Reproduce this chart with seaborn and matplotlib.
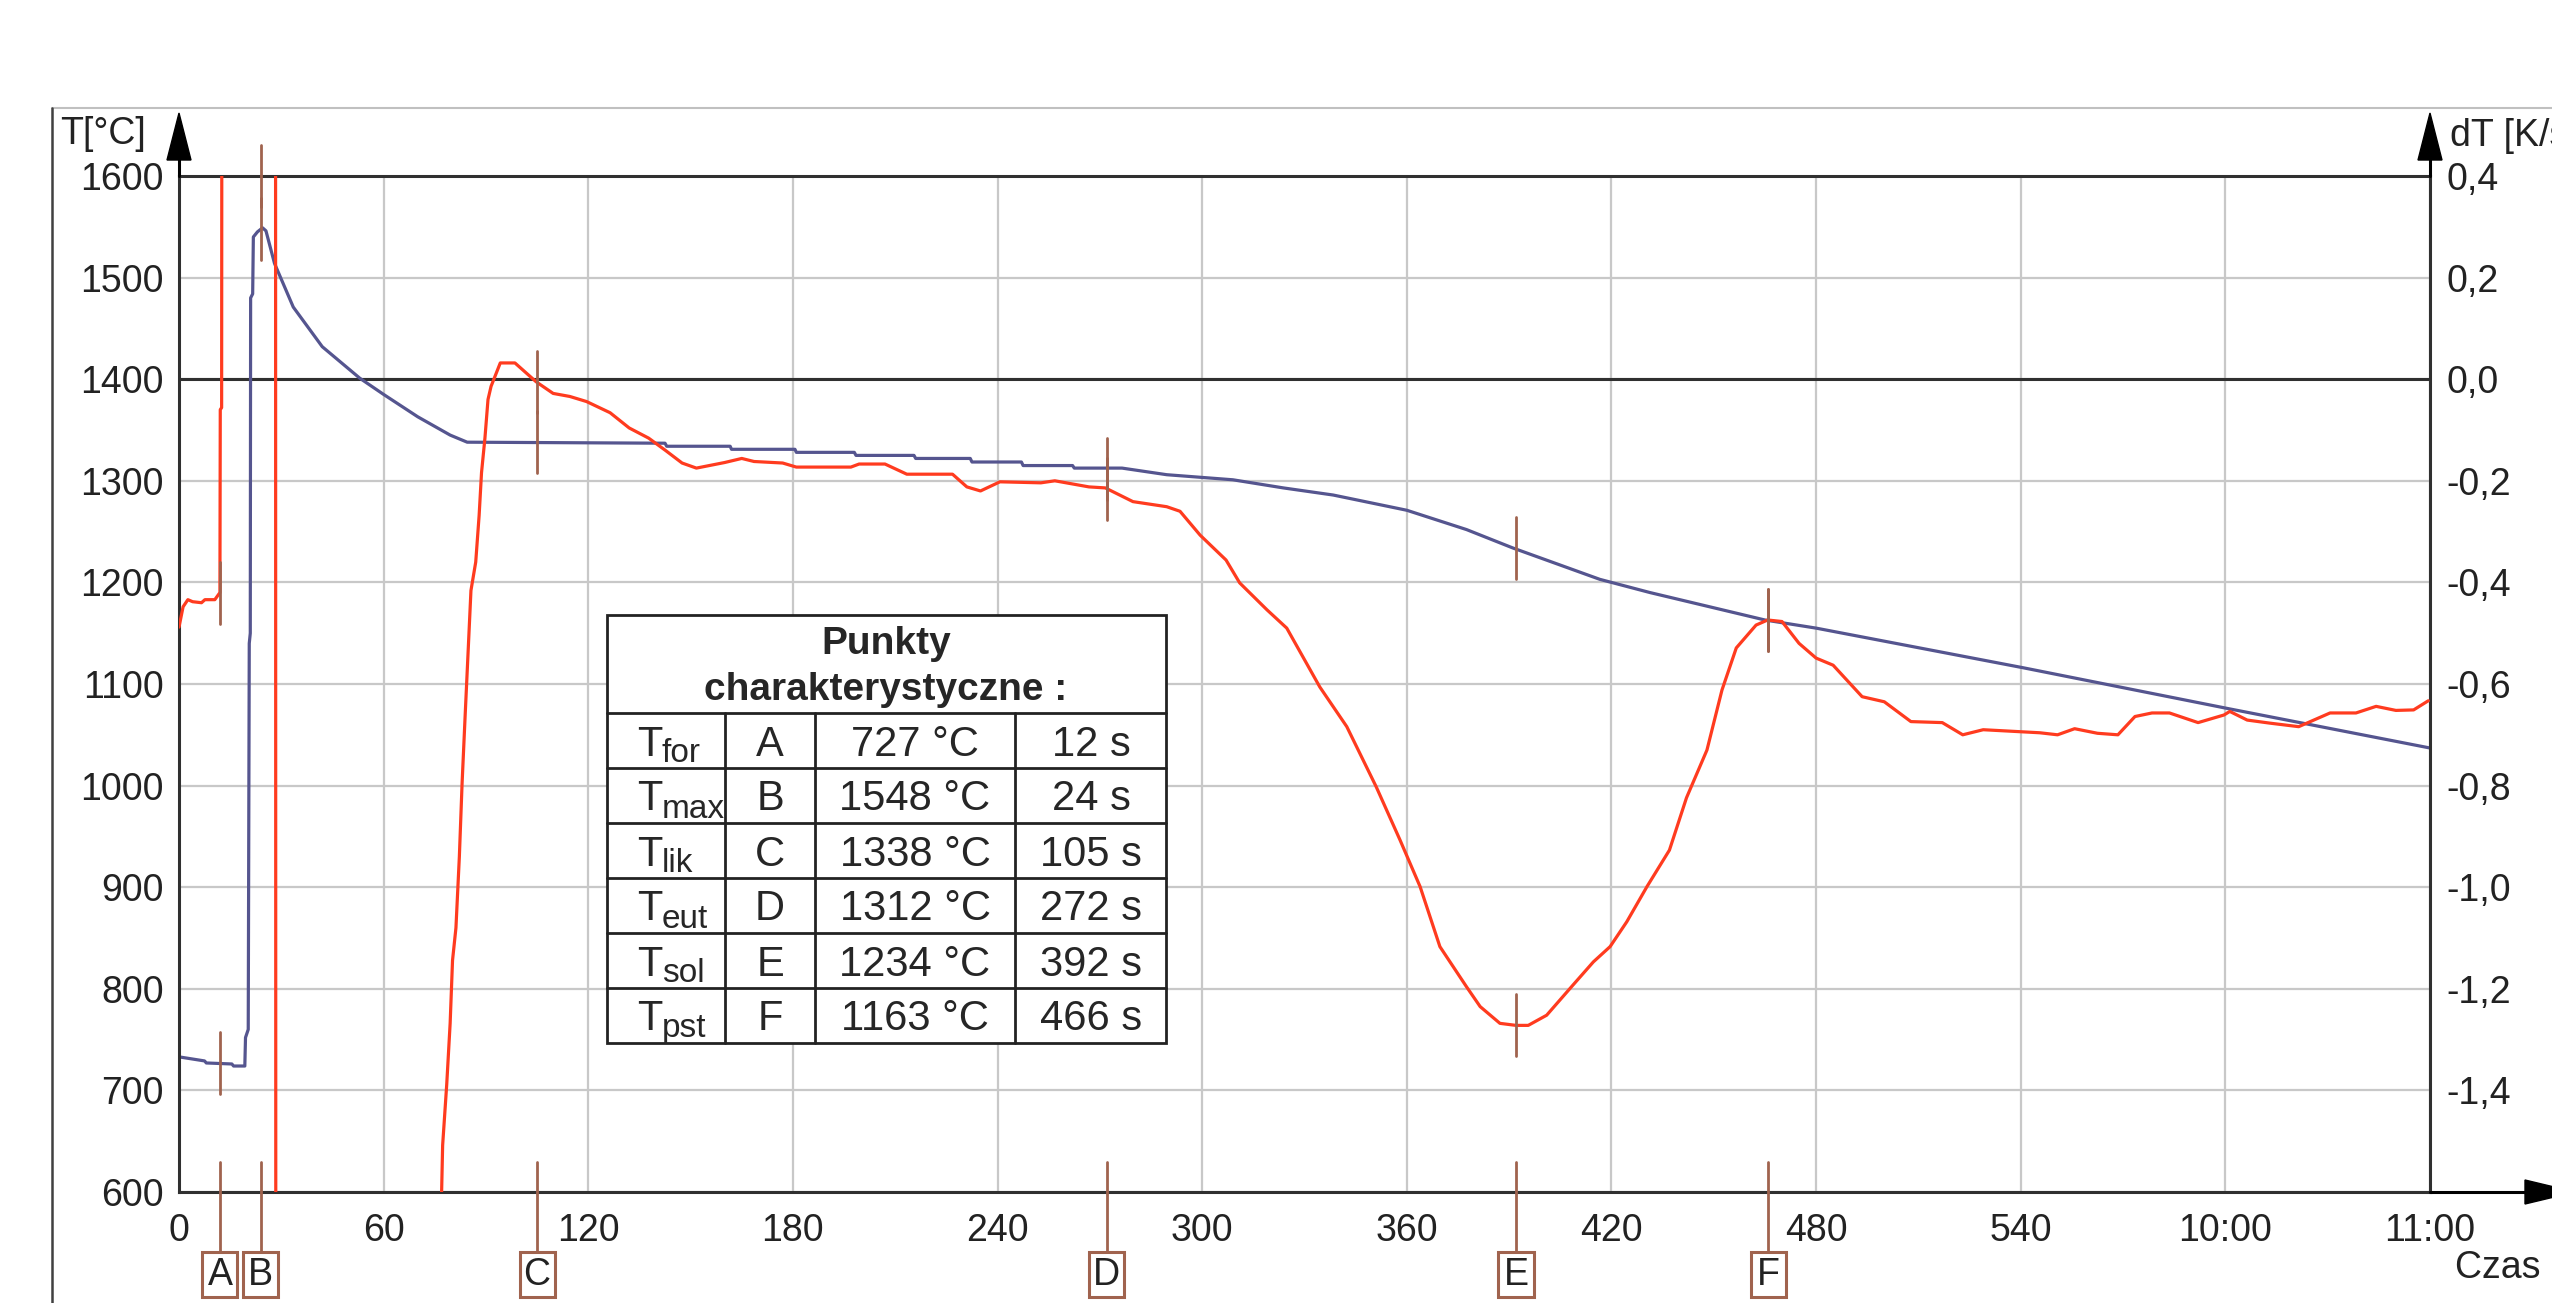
import numpy as np
import matplotlib
matplotlib.use('Agg')
import matplotlib.pyplot as plt
import matplotlib.transforms as mtransforms
from matplotlib.patches import Rectangle, Polygon
from matplotlib.lines import Line2D
import seaborn as sns

# krzywa temperatury (niebieska), czas [s] / T [°C]
t_time = [0, 7.5, 8, 15.5, 16, 19.3, 19.5, 20.3, 20.6, 20.9, 21.0, 21.6, 21.8, 23, 24.5,
          25.5, 28, 33.5, 42, 53, 60, 70, 79.5, 84.5, 142.5, 143, 161.6, 162, 180.6, 181,
          198, 198.5, 215.5, 216, 232, 232.5, 247, 247.5, 262, 262.5, 276.5, 289.6, 309,
          323.8, 338.4, 360, 377.5, 391, 416.6, 431.3, 465, 480, 540.7, 600.5, 660]
t_temp = [733, 729, 727, 726, 724, 724, 752, 760, 1140, 1150, 1480, 1484, 1540, 1545, 1549,
          1546, 1514, 1471, 1432, 1401, 1385, 1363, 1345, 1338, 1337, 1334, 1334, 1331, 1331, 1328,
          1328, 1325, 1325, 1322, 1322, 1318.5, 1318.5, 1315, 1315, 1312.5, 1312.5, 1306, 1301,
          1293, 1286, 1271, 1252, 1234, 1203, 1190, 1163, 1155, 1116, 1076, 1037]

# krzywa pochodnej (czerwona), czas [s] / dT [K/s]
d_time = [0, 1.2, 2.6, 4, 6.6, 7.6, 10.5, 12.0, 12.1, 12.5, 12.6, 28.3, 28.4, 76.9,
          77, 77.3, 78.5, 79.5, 80.2, 81.2, 82.2, 83, 83.9, 84.8, 85.6, 87, 88, 88.7, 89.7,
          90.6, 91.5, 94.2, 98.5, 104.7, 109.7, 114.6, 119.5, 126.4, 132, 137.7, 142.6, 147.5,
          151.7, 160, 165, 168.6, 177, 181, 197, 199.4, 207, 213.4, 226.8, 231, 235, 240.7,
          252.7, 256.8, 266.8, 271.6, 279.7, 289.6, 293.5, 299.4, 307, 311, 319, 324.8, 334.5,
          342.4, 351, 358, 363.9, 369.7, 377.5, 381.5, 387.3, 392, 395.6, 401, 408.8, 414.7,
          419.6, 424.5, 430.4, 437, 442, 448, 452.4, 456.6, 462.4, 465.8, 470, 475, 480, 485,
          493.5, 500, 507.8, 517, 523, 529, 545.6, 550.8, 555.8, 562.5, 568.5, 573.5, 578.5,
          583.6, 592, 599.6, 601.3, 606.4, 613, 621.5, 630.7, 638.3, 644.2, 650, 655.2, 659.5]
d_rate = [-0.488, -0.448, -0.434, -0.438, -0.440, -0.434, -0.434, -0.420, -0.060, -0.056,
          1.0, 1.0, -2.5, -2.5,
          -1.600, -1.508, -1.388, -1.268, -1.144, -1.080, -0.940, -0.796, -0.662, -0.532, -0.416,
          -0.360, -0.268, -0.184, -0.116, -0.040, -0.014, 0.032, 0.032, -0.005, -0.028, -0.034,
          -0.044, -0.066, -0.096, -0.116, -0.140, -0.165, -0.175, -0.164, -0.156, -0.162, -0.165,
          -0.173, -0.173, -0.167, -0.167, -0.187, -0.187, -0.212, -0.220, -0.202, -0.204, -0.200,
          -0.212, -0.214, -0.241, -0.251, -0.260, -0.307, -0.356, -0.401, -0.454, -0.490, -0.606,
          -0.684, -0.802, -0.907, -0.999, -1.117, -1.196, -1.235, -1.268, -1.272, -1.272, -1.252,
          -1.192, -1.147, -1.117, -1.068, -0.999, -0.927, -0.824, -0.730, -0.612, -0.529, -0.484,
          -0.474, -0.477, -0.520, -0.549, -0.563, -0.625, -0.635, -0.674, -0.676, -0.700, -0.690,
          -0.696, -0.700, -0.688, -0.697, -0.700, -0.664, -0.657, -0.657, -0.676, -0.661, -0.654,
          -0.671, -0.677, -0.684, -0.657, -0.657, -0.644, -0.652, -0.651, -0.633]

# punkty charakterystyczne
pt_sub = ['for', 'max', 'lik', 'eut', 'sol', 'pst']
pt_lbl = ['A', 'B', 'C', 'D', 'E', 'F']
pt_temp = [727, 1548, 1338, 1312, 1234, 1163]
pt_time = [12, 24, 105, 272, 392, 466]

x_ticks = [0, 60, 120, 180, 240, 300, 360, 420, 480, 540, 600, 660]
x_labels = ['0', '60', '120', '180', '240', '300', '360', '420', '480', '540', '10:00', '11:00']
y_ticks = [600, 700, 800, 900, 1000, 1100, 1200, 1300, 1400, 1500, 1600]
dt_ticks = [0.4, 0.2, 0.0, -0.2, -0.4, -0.6, -0.8, -1.0, -1.2, -1.4]

BLUE = '#55558f'
RED = '#ff3b1f'
BROWN = '#a0634e'
DARK = '#303030'
GRID = '#c8c8c8'

sns.set_style('white')
plt.rcParams['font.family'] = ['Liberation Sans Narrow', 'Liberation Sans', 'DejaVu Sans']
TAB_FONT = ['Liberation Sans', 'DejaVu Sans']

W, H = 2552, 1303
fig = plt.figure(figsize=(W / 100, H / 100), dpi=100)
ax = fig.add_axes([179 / W, (H - 1192) / H, (2430 - 179) / W, (1192 - 176) / H])


def fx(X):
    return (X - 179) / 2251.0


def fy(Y):
    return (1192 - Y) / 1016.0


sns.lineplot(x=t_time, y=t_temp, ax=ax, color=BLUE, lw=2.3, estimator=None, sort=False)
ax.set_xlim(0, 660)
ax.set_ylim(600, 1600)
ax.set_xticks(x_ticks)
ax.set_xticklabels(x_labels)
ax.set_yticks(y_ticks)
ax.set_xlabel('')
ax.set_ylabel('')
ax.grid(True, color=GRID, lw=1.6)
ax.set_axisbelow(True)
ax.axhline(1400, color=DARK, lw=2.2, zorder=1.5)
for s in ax.spines.values():
    s.set_color(DARK)
    s.set_linewidth(2.2)
ax.tick_params(axis='both', length=0, labelsize=27, colors='#222222')
ax.tick_params(axis='y', pad=11)
ax.tick_params(axis='x', pad=15)

ax2 = ax.twinx()
sns.lineplot(x=d_time, y=d_rate, ax=ax2, color=RED, lw=2.3, estimator=None, sort=False)
ax2.set_ylim(-1.6, 0.4)
ax2.set_yticks(dt_ticks)
ax2.set_yticklabels([f'{v:.1f}'.replace('.', ',') for v in dt_ticks])
ax2.set_ylabel('')
ax2.tick_params(axis='y', length=0, labelsize=27, pad=12, colors='#222222')
for s in ax2.spines.values():
    s.set_visible(False)

# znaczniki punktow
blend = mtransforms.blended_transform_factory(ax2.transData, ax2.transAxes)
half = 31 / 1016.0 * 2.0
for t, T, lbl in zip(pt_time, pt_temp, pt_lbl):
    c_blue = (T - 1400) / 500.0
    c_red = min(np.interp(t, d_time, d_rate), 0.4)
    for c in (c_blue, c_red):
        ax2.plot([t, t], [c - half, c + half], color=BROWN, lw=2, clip_on=False, zorder=6)
    ax2.plot([t, t], [fy(1162), fy(1252)], color=BROWN, lw=2, transform=blend,
             clip_on=False, zorder=6)
    ax2.add_patch(Rectangle((t - 5.15, fy(1297)), 10.3, 45 / 1016.0, transform=blend,
                            fc='white', ec=BROWN, lw=2.2, clip_on=False, zorder=6))
    ax2.text(t, fy(1275), lbl, transform=blend, ha='center', va='center', fontsize=27,
             color='#222222', zorder=7)

# strzalki osi
tr = ax2.transAxes
hw = 12 / 2251.0
ax2.add_line(Line2D([0, 0], [1, fy(150)], color='black', lw=2.2, transform=tr, clip_on=False))
ax2.add_line(Line2D([1, 1], [1, fy(150)], color='black', lw=2.2, transform=tr, clip_on=False))
for x0 in (0, 1):
    ax2.add_patch(Polygon([[x0, fy(113)], [x0 - hw, fy(160)], [x0 + hw, fy(160)]],
                          closed=True, transform=tr, fc='black', ec='black', clip_on=False))
ax2.add_line(Line2D([1, fx(2530)], [0, 0], color='black', lw=2.2, transform=tr, clip_on=False))
hh = 12 / 1016.0
ax2.add_patch(Polygon([[fx(2575), 0], [fx(2525), hh], [fx(2525), -hh]], closed=True,
                      transform=tr, fc='black', ec='black', clip_on=False))

# opisy osi
fig.text(60 / W, 1 - 134 / H, 'T[°C]', ha='left', va='center', fontsize=27, color='#222222')
fig.text(2450 / W, 1 - 136 / H, 'dT [K/s]', ha='left', va='center', fontsize=27, color='#222222')
fig.text(2455 / W, 1 - 1268 / H, 'Czas [s]', ha='left', va='center', fontsize=27, color='#222222')

# ramka
fig.add_artist(Line2D([52 / W, 1], [1 - 108 / H, 1 - 108 / H], color='#c0c0c0', lw=1.5))
fig.add_artist(Line2D([52 / W, 52 / W], [1 - 108 / H, 0], color='#404040', lw=1.8))

# tabela punktow charakterystycznych
col_x = [607, 725, 815, 1015, 1166]
row_y = [615, 713, 768, 823, 878, 933, 988, 1043]
ax2.add_patch(Rectangle((fx(607), fy(1043)), fx(1166) - fx(607), fy(615) - fy(1043),
                        transform=tr, fc='white', ec='#222222', lw=2, clip_on=False, zorder=8))
for Y in row_y[1:-1]:
    ax2.add_line(Line2D([fx(607), fx(1166)], [fy(Y), fy(Y)], color='#222222', lw=2,
                        transform=tr, clip_on=False, zorder=9))
for X in col_x[1:-1]:
    ax2.add_line(Line2D([fx(X), fx(X)], [fy(713), fy(1043)], color='#222222', lw=2,
                        transform=tr, clip_on=False, zorder=9))
ax2.text(fx(886), fy(654), 'Punkty', transform=tr, ha='center', va='baseline', fontsize=28,
         fontweight='bold', family=TAB_FONT, zorder=10)
ax2.text(fx(886), fy(700), 'charakterystyczne :', transform=tr, ha='center', va='baseline',
         fontsize=28, fontweight='bold', family=TAB_FONT, zorder=10)
for i, (sub, lbl, T, t) in enumerate(zip(pt_sub, pt_lbl, pt_temp, pt_time)):
    yb = fy((row_y[i + 1] + row_y[i + 2]) / 2 + 15)
    ax2.text(fx(662), yb, 'T', transform=tr, ha='right', va='baseline', fontsize=30,
             family=TAB_FONT, zorder=10)
    ax2.text(fx(662), yb - 7 / 1016.0, sub, transform=tr, ha='left', va='baseline',
             fontsize=24, family=TAB_FONT, zorder=10)
    ax2.text(fx(770), yb, lbl, transform=tr, ha='center', va='baseline', fontsize=30,
             family=TAB_FONT, zorder=10)
    ax2.text(fx(915), yb, f'{T} °C', transform=tr, ha='center', va='baseline', fontsize=30,
             family=TAB_FONT, zorder=10)
    ax2.text(fx(1091), yb, f'{t} s', transform=tr, ha='center', va='baseline', fontsize=30,
             family=TAB_FONT, zorder=10)

fig.savefig('out.png', dpi=100, facecolor='white')
